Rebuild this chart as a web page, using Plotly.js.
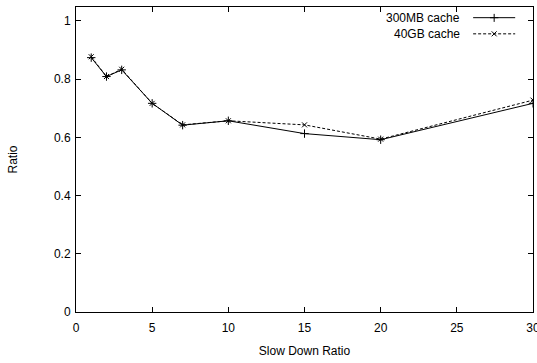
<!DOCTYPE html>
<html><head><meta charset="utf-8">
<script src="https://cdn.plot.ly/plotly-3.0.1.min.js"></script>
<style>html,body{margin:0;padding:0;background:#fff}#c{width:537px;height:363px}</style>
</head><body><div id="c"></div>
<script>
const slowDown = [1, 2, 3, 5, 7, 10, 15, 20, 30];
const cache300MB = [0.874, 0.809, 0.832, 0.717, 0.642, 0.657, 0.613, 0.592, 0.717];
const cache40GB  = [0.877, 0.809, 0.834, 0.717, 0.643, 0.657, 0.643, 0.594, 0.728];
const seriesNames = ["300MB cache", "40GB cache"];
const xTicks = [0, 5, 10, 15, 20, 25, 30];
const yTicks = [0, 0.2, 0.4, 0.6, 0.8, 1];
const yTickText = ["0", "0.2", "0.4", "0.6", "0.8", "1"];

const font = {family: "Liberation Sans, Arial, sans-serif", size: 12, color: "#000"};
const traces = [
  {x: slowDown, y: cache300MB, name: seriesNames[0], mode: "lines+markers",
   line: {color: "#000", width: 1},
   marker: {symbol: "cross-thin", size: 6, line: {color: "#000", width: 1}}, showlegend: false},
  {x: slowDown, y: cache40GB, name: seriesNames[1], mode: "lines+markers",
   line: {color: "#000", width: 1, dash: "3px,2px"},
   marker: {symbol: "x-thin", size: 5, line: {color: "#000", width: 1}}, showlegend: false}
];

// legend drawn gnuplot-style: text right-aligned, sample to the right
const legY = [0.965, 0.912];
const annotations = seriesNames.map((n, i) => ({
  xref: "paper", yref: "paper", x: 0.844, y: legY[i], xanchor: "right", yanchor: "middle",
  text: n, showarrow: false, font: font
}));
const shapes = [];
[ "solid", "3px,2px" ].forEach((d, i) => {
  shapes.push({type: "line", xref: "paper", yref: "paper", x0: 0.869, x1: 0.961, y0: legY[i], y1: legY[i],
    line: {color: "#000", width: 1, dash: d}});
});
const legendMarks = [
  {x: [0], y: [1], mode: "markers", xaxis: "x2", yaxis: "y2", showlegend: false, hoverinfo: "skip",
   marker: {symbol: "cross-thin", size: 6, line: {color: "#000", width: 1}}},
  {x: [0], y: [0], mode: "markers", xaxis: "x2", yaxis: "y2", showlegend: false, hoverinfo: "skip",
   marker: {symbol: "x-thin", size: 5, line: {color: "#000", width: 1}}}
];

const layout = {
  width: 537, height: 363,
  margin: {l: 76, r: 4, t: 7, b: 51},
  paper_bgcolor: "#fff", plot_bgcolor: "#fff",
  font: font, showlegend: false,
  xaxis: {range: [0, 30], tickvals: xTicks, ticks: "inside", ticklen: 5, tickcolor: "#000",
    showline: true, linecolor: "#000", linewidth: 1, mirror: "ticks", showgrid: false, zeroline: false,
    automargin: false, tickfont: font, ticklabeloverflow: "allow", ticklabelstandoff: 5,
    title: {text: "Slow Down Ratio", font: font, standoff: 12}},
  yaxis: {range: [0, 1.048], tickvals: yTicks, ticktext: yTickText, ticks: "inside", ticklen: 5, tickcolor: "#000",
    showline: true, linecolor: "#000", linewidth: 1, mirror: "ticks", showgrid: false, zeroline: false,
    automargin: false, tickfont: font, ticklabelstandoff: 2,
    title: {text: "Ratio", font: font, standoff: 33}},
  xaxis2: {domain: [0.9, 0.93], range: [-1, 1], visible: false, fixedrange: true, anchor: "y2"},
  yaxis2: {domain: [0.8988, 0.9782], range: [-0.25, 1.25], visible: false, fixedrange: true, anchor: "x2"},
  annotations: annotations, shapes: shapes
};
Plotly.newPlot("c", traces.concat(legendMarks), layout, {displayModeBar: false, staticPlot: true});
</script></body></html>
